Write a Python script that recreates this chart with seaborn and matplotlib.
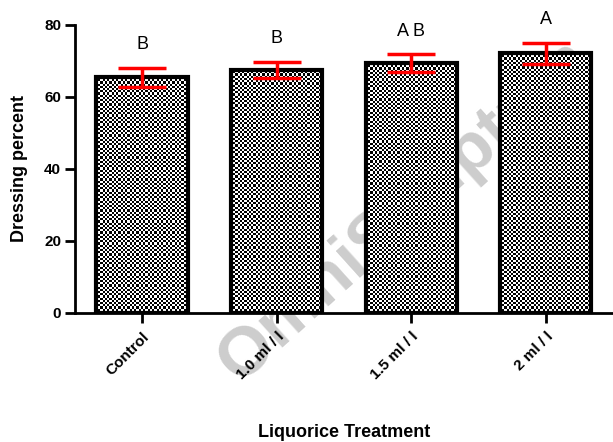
import numpy as np
import pandas as pd
import seaborn as sns
import matplotlib
matplotlib.use('Agg')
import matplotlib.pyplot as plt

treatments = ['Control', '1.0 ml / l', '1.5 ml / l', '2 ml / l']
dressing = [65.5, 67.6, 69.4, 72.1]
sem = [2.6, 2.2, 2.4, 2.9]
letters = ['B', 'B', 'A B', 'A']

sns.set_theme(style='white')
plt.rcParams['font.family'] = ['Liberation Sans', 'DejaVu Sans']
plt.rcParams['text.color'] = 'black'
plt.rcParams['axes.labelcolor'] = 'black'
plt.rcParams['xtick.color'] = 'black'
plt.rcParams['ytick.color'] = 'black'

fig = plt.figure(figsize=(6.13, 4.42), dpi=100)
ax = fig.add_axes([0.1223, 0.2919, 0.8777, 0.6516])

# watermark, sits behind the axes
fig.text(0.39, 0.13, 'OmniScriptum', rotation=42, rotation_mode='anchor',
         fontsize=50, fontweight='bold', color='#cdcdcd', ha='left', va='baseline',
         zorder=0)
ax.set_zorder(1)
ax.patch.set_alpha(0)

df = pd.DataFrame({'treatment': treatments, 'dressing': dressing})
sns.barplot(data=df, x='treatment', y='dressing', ax=ax, width=0.68,
            color='white', edgecolor='black', linewidth=3, errorbar=None, zorder=3)

ax.set_xlim(-0.5, 3.5)
ax.set_ylim(0, 80)

# checkerboard fill clipped to each bar
fig.canvas.draw()
for p in ax.patches:
    p.set_facecolor('none')
    x0, y0 = p.get_x(), p.get_y()
    w, h = p.get_width(), p.get_height()
    (px0, py0), (px1, py1) = ax.transData.transform([(x0, y0), (x0 + w, y0 + h)])
    nx = max(int(abs(px1 - px0) / 2.2), 1)
    ny = max(int(abs(py1 - py0) / 2.2), 1)
    board = (np.add.outer(np.arange(ny), np.arange(nx)) % 2).astype(float)
    im = ax.imshow(board, cmap='gray', extent=(x0, x0 + w, y0, y0 + h),
                   interpolation='nearest', aspect='auto', zorder=2)
    im.set_clip_path(p)

ax.errorbar(range(len(treatments)), dressing, yerr=sem, fmt='none',
            ecolor='red', elinewidth=2.5, capsize=17, capthick=2.5, zorder=4)

for i, (m, e, t) in enumerate(zip(dressing, sem, letters)):
    ax.text(i, m + e + 6.5, t, ha='center', va='center', fontsize=13,
            color='black', clip_on=False)

sns.despine(ax=ax)
for s in ['left', 'bottom']:
    ax.spines[s].set_linewidth(2)
    ax.spines[s].set_color('black')

ax.set_yticks([0, 20, 40, 60, 80])
ax.tick_params(axis='both', direction='out', length=7, width=2, color='black',
               labelcolor='black', left=True, bottom=True)
ax.tick_params(axis='y', labelsize=11, pad=3)
for lab in ax.get_yticklabels():
    lab.set_fontweight('bold')

ax.set_xticks(range(len(treatments)))
ax.set_xticklabels(treatments, rotation=45, ha='right', rotation_mode='anchor',
                   fontsize=11, fontweight='bold', color='black')
ax.tick_params(axis='x', pad=5)

ax.set_xlabel('Liquorice Treatment', fontsize=13, fontweight='bold', color='black')
ax.set_ylabel('Dressing percent', fontsize=13, fontweight='bold', color='black')
ax.xaxis.set_label_coords(0.50, -0.385)
ax.yaxis.set_label_coords(-0.088, 0.5)

fig.savefig('out.png', dpi=100)
